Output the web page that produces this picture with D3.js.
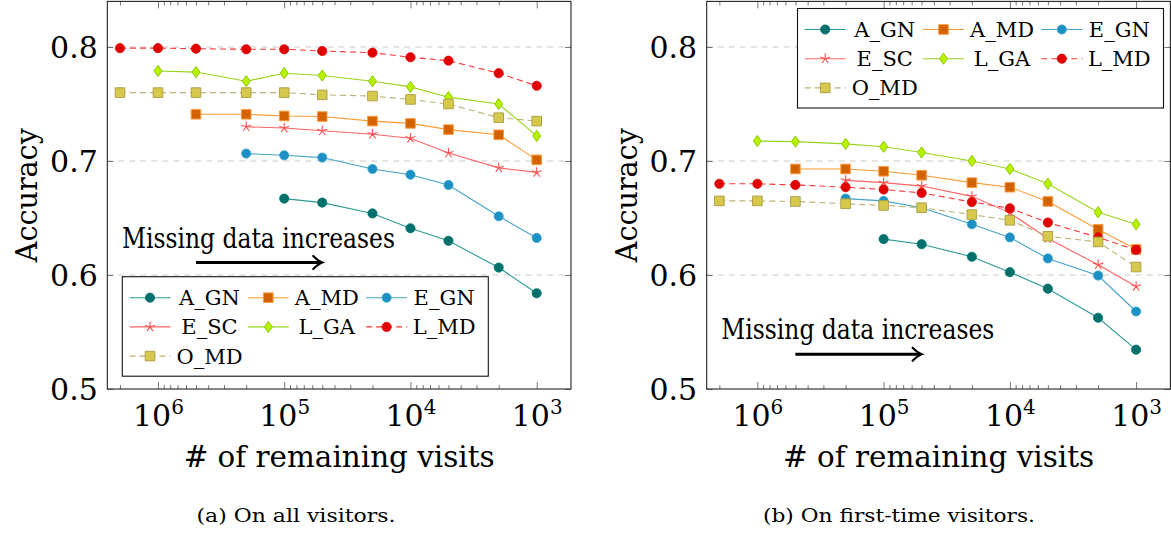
<!DOCTYPE html>
<html>
<head>
<meta charset="utf-8">
<script src="https://cdn.jsdelivr.net/npm/d3@7"></script>
<style>
  body { margin: 0; background: #fff; }
  svg { display: block; }
</style>
</head>
<body>
<svg id="chart" width="1171" height="534"></svg>
<script>
// Number of remaining visits at each measurement (decreasing left to right)
const visits = [2e6, 1e6, 5e5, 2e5, 1e5, 5e4, 2e4, 1e4, 5e3, 2e3, 1e3];
const seriesNames = ["A_GN", "A_MD", "E_GN", "E_SC", "L_GA", "L_MD", "O_MD"];

// (a) accuracy on all visitors; each series ends at 10^3 visits
const allA_GN = [0.667, 0.6635, 0.654, 0.641, 0.630, 0.6065, 0.584];
const allA_MD = [0.741, 0.741, 0.7395, 0.739, 0.735, 0.733, 0.7275, 0.723, 0.701];
const allE_GN = [0.7065, 0.705, 0.703, 0.693, 0.688, 0.679, 0.6515, 0.6325];
const allE_SC = [0.730, 0.729, 0.7265, 0.7235, 0.720, 0.707, 0.694, 0.690];
const allL_GA = [0.779, 0.778, 0.770, 0.777, 0.775, 0.770, 0.765, 0.756, 0.750, 0.722];
const allL_MD = [0.799, 0.799, 0.7985, 0.798, 0.798, 0.7965, 0.795, 0.791, 0.788, 0.777, 0.766];
const allO_MD = [0.760, 0.760, 0.760, 0.760, 0.760, 0.758, 0.757, 0.754, 0.750, 0.738, 0.735];

// (b) accuracy on first-time visitors
const newA_GN = [0.6315, 0.627, 0.616, 0.6025, 0.588, 0.5625, 0.5345];
const newA_MD = [0.693, 0.693, 0.691, 0.6875, 0.681, 0.677, 0.6645, 0.640, 0.6225];
const newE_GN = [0.667, 0.665, 0.659, 0.6445, 0.633, 0.6145, 0.5995, 0.568];
const newE_SC = [0.683, 0.681, 0.678, 0.669, 0.6545, 0.632, 0.609, 0.590];
const newL_GA = [0.7175, 0.717, 0.715, 0.7125, 0.7075, 0.700, 0.693, 0.680, 0.655, 0.6445];
const newL_MD = [0.680, 0.680, 0.679, 0.677, 0.675, 0.672, 0.664, 0.6585, 0.646, 0.633, 0.622];
const newO_MD = [0.665, 0.665, 0.6645, 0.6625, 0.661, 0.659, 0.653, 0.648, 0.634, 0.629, 0.607];

const xTicks = [1e6, 1e5, 1e4, 1e3];
const yTicks = [0.5, 0.6, 0.7, 0.8];
const gridTicks = [0.6, 0.7, 0.8];
const xLabel = "# of remaining visits";
const yLabel = "Accuracy";
const noteText = "Missing data increases";

const FONT = "'DejaVu Serif', serif";

// Visual style of each series
const styles = {
  A_GN: { line: "#2a9a96", fill: "#00706c", stroke: "#00706c", mark: "circle", dash: null },
  A_MD: { line: "#ff9a33", fill: "#d36300", stroke: "#ff9a3c", mark: "square", dash: null },
  E_GN: { line: "#45a2c9", fill: "#1b90c4", stroke: "#3ea2cd", mark: "circle", dash: null },
  E_SC: { line: "#ff6464", fill: "none",    stroke: "#ff4f4f", mark: "star",   dash: null },
  L_GA: { line: "#98d41c", fill: "#b8f200", stroke: "#8cc800", mark: "diamond", dash: null },
  L_MD: { line: "#ff3434", fill: "#e00000", stroke: "#e00000", mark: "circle", dash: "6,4" },
  O_MD: { line: "#bdb070", fill: "#d6c84a", stroke: "#b0a24a", mark: "square", dash: "6,4" }
};

const panels = [
  {
    left: 107.3,
    series: { A_GN: allA_GN, A_MD: allA_MD, E_GN: allE_GN, E_SC: allE_SC, L_GA: allL_GA, L_MD: allL_MD, O_MD: allO_MD },
    legend: [122.3, 276.7],
    note: { text: [1.93e6, 0.6237], arrow: [5e5, 5e4, 0.611] },
    caption: "(a) On all visitors.", captionX: 296, captionW: 199
  },
  {
    left: 706.7,
    series: { A_GN: newA_GN, A_MD: newA_MD, E_GN: newE_GN, E_SC: newE_SC, L_GA: newL_GA, L_MD: newL_MD, O_MD: newO_MD },
    legend: [797.5, 8.5],
    note: { text: [1.93e6, 0.5436], arrow: [5e5, 5e4, 0.5305] },
    caption: "(b) On first-time visitors.", captionX: 899, captionW: 272
  }
];

const plotW = 463.7, plotTop = 1.4, plotBottom = 389;
const svg = d3.select("#chart");

function serif(sel, size) {
  return sel.attr("font-family", null).style("font-family", FONT).style("font-size", size + "px").attr("fill", "#000");
}

function markerPath(shape) {
  if (shape === "square") return "M-4.8,-4.8H4.8V4.8H-4.8Z";
  if (shape === "diamond") return "M0,-5.6L4,0L0,5.6L-4,0Z";
  if (shape === "star") {
    let p = "";
    for (let k = 0; k < 5; k++) {
      const a = Math.PI / 2 + k * 2 * Math.PI / 5;
      p += "M0,0L" + (5.2 * Math.cos(a)).toFixed(2) + "," + (-5.2 * Math.sin(a)).toFixed(2);
    }
    return p;
  }
  return null;
}

function drawMarker(g, name, cx, cy) {
  const s = styles[name];
  if (s.mark === "circle") {
    g.append("circle").attr("cx", cx).attr("cy", cy).attr("r", 4.6)
      .attr("fill", s.fill).attr("stroke", s.stroke).attr("stroke-width", 0.8);
  } else {
    g.append("path").attr("d", markerPath(s.mark))
      .attr("transform", `translate(${cx},${cy})`)
      .attr("fill", s.fill).attr("stroke", s.stroke)
      .attr("stroke-width", s.mark === "star" ? 1.1 : 1);
  }
}

panels.forEach(p => {
  const x = d3.scaleLog().domain([2.52e6, 535]).range([p.left, p.left + plotW]);
  const y = d3.scaleLinear().domain([0.5, 0.84]).range([plotBottom, plotTop]);
  const g = svg.append("g");

  // dashed horizontal grid
  g.append("g").selectAll("line").data(gridTicks).join("line")
    .attr("x1", p.left).attr("x2", p.left + plotW)
    .attr("y1", d => y(d)).attr("y2", d => y(d))
    .attr("stroke", "#c9c9c9").attr("stroke-width", 1).attr("stroke-dasharray", "6,5");

  // minor log ticks between the decades
  const minor = [];
  [3, 4, 5, 6].forEach(e => d3.range(2, 10).forEach(k => {
    const v = k * Math.pow(10, e);
    if (v <= x.domain()[0]) minor.push(v);
  }));

  const tickStyle = sel => {
    sel.select(".domain").remove();
    sel.selectAll(".tick line").attr("stroke", "#555").attr("stroke-width", 0.8);
  };

  g.append("g").attr("transform", `translate(0,${plotBottom})`)
    .call(d3.axisBottom(x).tickValues(minor).tickSize(-4).tickFormat(""))
    .call(tickStyle);
  g.append("g").attr("transform", `translate(0,${plotTop})`)
    .call(d3.axisTop(x).tickValues(minor).tickSize(-4).tickFormat(""))
    .call(tickStyle);
  g.append("g").attr("transform", `translate(0,${plotTop})`)
    .call(d3.axisTop(x).tickValues(xTicks).tickSize(-7).tickFormat(""))
    .call(tickStyle);

  const xAxis = g.append("g").attr("transform", `translate(0,${plotBottom})`)
    .call(d3.axisBottom(x).tickValues(xTicks).tickSize(-7))
    .call(tickStyle);
  xAxis.selectAll(".tick text").each(function (d) {
    const t = d3.select(this);
    t.text(null).attr("y", 37).attr("dy", null);
    serif(t, 30);
    t.append("tspan").text("10");
    t.append("tspan").text(Math.round(Math.log10(d))).attr("dy", -12).style("font-size", "20px");
  });

  const yAxis = g.append("g").attr("transform", `translate(${p.left},0)`)
    .call(d3.axisLeft(y).tickValues(yTicks).tickSize(-6).tickPadding(9.5).tickFormat(d3.format(".1f")))
    .call(tickStyle);
  serif(yAxis.selectAll(".tick text"), 30).attr("dy", "0.36em");
  g.append("g").attr("transform", `translate(${p.left + plotW},0)`)
    .call(d3.axisRight(y).tickValues(yTicks).tickSize(-6).tickFormat(""))
    .call(tickStyle);

  // frame
  g.append("rect").attr("x", p.left).attr("y", plotTop).attr("width", plotW)
    .attr("height", plotBottom - plotTop).attr("fill", "none")
    .attr("stroke", "#222").attr("stroke-width", 1.1);

  // series: line then its markers, in legend order
  const line = d3.line().x(d => x(d[0])).y(d => y(d[1]));
  seriesNames.forEach(name => {
    const vals = p.series[name];
    const xs = visits.slice(visits.length - vals.length);
    const pts = vals.map((v, i) => [xs[i], v]);
    const s = styles[name];
    const sg = g.append("g");
    sg.append("path").datum(pts).attr("d", line).attr("fill", "none")
      .attr("stroke", s.line).attr("stroke-width", 1.1)
      .attr("stroke-dasharray", s.dash);
    pts.forEach(d => drawMarker(sg, name, x(d[0]), y(d[1])));
  });

  // annotation
  serif(g.append("text"), 27).attr("x", x(p.note.text[0])).attr("y", y(p.note.text[1]))
    .attr("textLength", 273).attr("lengthAdjust", "spacingAndGlyphs")
    .text(noteText);
  const ax1 = x(p.note.arrow[0]), ax2 = x(p.note.arrow[1]), ay = y(p.note.arrow[2]);
  g.append("line").attr("x1", ax1).attr("x2", ax2 - 1).attr("y1", ay).attr("y2", ay)
    .attr("stroke", "#000").attr("stroke-width", 3);
  g.append("path")
    .attr("d", `M${ax2 - 9},${ay - 6.5} Q${ax2 - 4},${ay - 1.5} ${ax2},${ay} Q${ax2 - 4},${ay + 1.5} ${ax2 - 9},${ay + 6.5}`)
    .attr("fill", "none").attr("stroke", "#000").attr("stroke-width", 2.2).attr("stroke-linecap", "round");

  // legend
  const [lx, ly] = p.legend;
  const lg = g.append("g");
  lg.append("rect").attr("x", lx).attr("y", ly).attr("width", 366).attr("height", 99.5)
    .attr("fill", "#fff").attr("stroke", "#111").attr("stroke-width", 1.1);
  seriesNames.forEach((name, i) => {
    const col = i % 3, row = Math.floor(i / 3);
    const mx = lx + 27.7 + col * 118.3;
    const my = ly + 21 + row * 29.2;
    const s = styles[name];
    lg.append("line").attr("x1", mx - 20.5).attr("x2", mx + 20.5).attr("y1", my).attr("y2", my)
      .attr("stroke", s.line).attr("stroke-width", 1.1).attr("stroke-dasharray", s.dash);
    drawMarker(lg, name, mx, my);
    serif(lg.append("text"), 21).attr("x", lx + 87.2 + col * 117.3).attr("y", my + 7.5)
      .attr("text-anchor", "middle").text(name);
  });

  // axis titles
  const cx = p.left + plotW / 2;
  serif(g.append("text"), 29).attr("x", cx).attr("y", 467).attr("text-anchor", "middle")
    .attr("textLength", 311).attr("lengthAdjust", "spacingAndGlyphs")
    .text(xLabel);
  serif(g.append("text"), 30)
    .attr("transform", `translate(${p.left - 70},${(plotTop + plotBottom) / 2}) rotate(-90)`)
    .attr("text-anchor", "middle")
    .attr("textLength", 134).attr("lengthAdjust", "spacingAndGlyphs").text(yLabel);

  // caption
  serif(g.append("text"), 19).attr("x", p.captionX).attr("y", 522).attr("text-anchor", "middle")
    .attr("textLength", p.captionW).attr("lengthAdjust", "spacingAndGlyphs")
    .text(p.caption);
});
</script>
</body>
</html>
